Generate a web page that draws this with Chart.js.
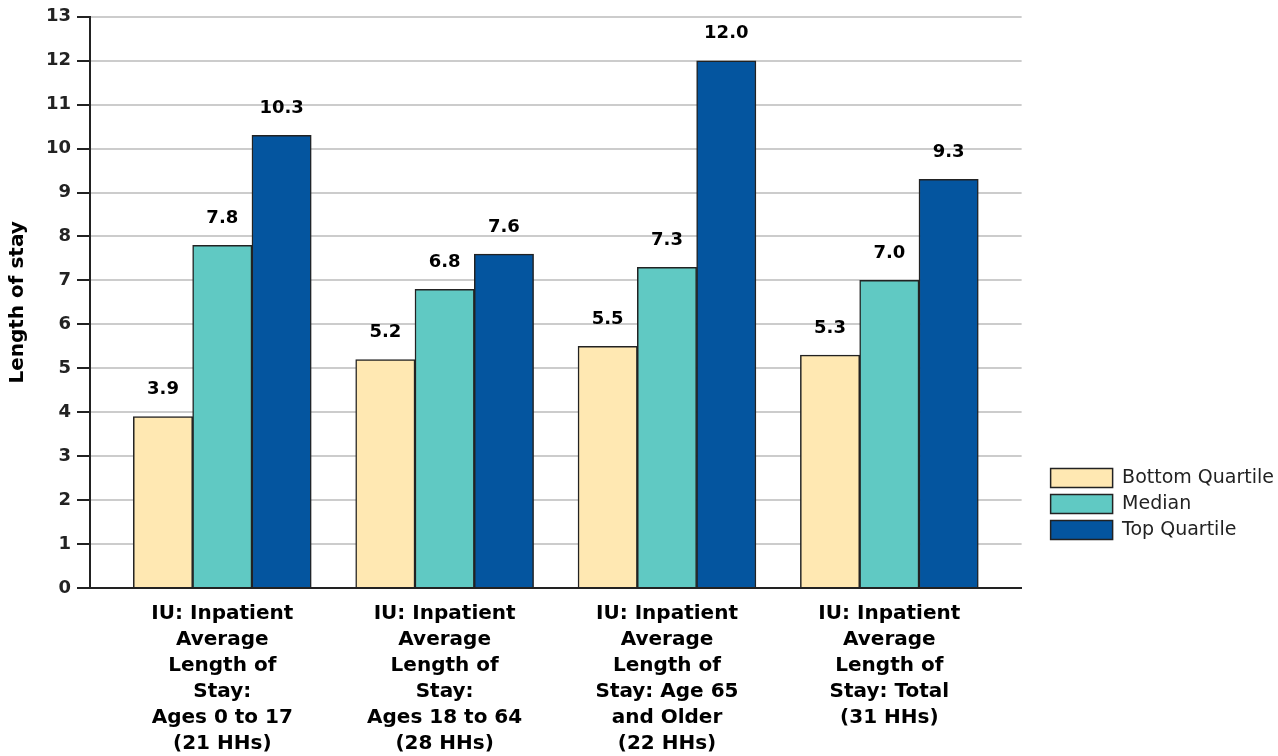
<!DOCTYPE html>
<html>
<head>
<meta charset="utf-8">
<script src="https://cdn.jsdelivr.net/npm/chart.js@4.4.1/dist/chart.umd.min.js"></script>
<style>
  html, body { margin: 0; padding: 0; background: #fff; }
  #wrap { width: 1278px; height: 756px; position: relative; }
</style>
</head>
<body>
<div id="wrap"><canvas id="chart"></canvas></div>
<script>
// categories, one array of lines each
var categories = [
  ['IU: Inpatient', 'Average', 'Length of', 'Stay:', 'Ages 0 to 17', '(21 HHs)'],
  ['IU: Inpatient', 'Average', 'Length of', 'Stay:', 'Ages 18 to 64', '(28 HHs)'],
  ['IU: Inpatient', 'Average', 'Length of', 'Stay: Age 65', 'and Older', '(22 HHs)'],
  ['IU: Inpatient', 'Average', 'Length of', 'Stay: Total', '(31 HHs)']
];
var bottomQuartile = [3.9, 5.2, 5.5, 5.3];
var median = [7.8, 6.8, 7.3, 7.0];
var topQuartile = [10.3, 7.6, 12.0, 9.3];
var yTicks = [0, 13];

var ink = '#222222';
var xPad = 0.595; // room left/right of the outer groups, in category units

function points(values) {
  return values.map(function (v, i) { return { x: i + 1, y: v }; });
}

function series(label, values, color) {
  return {
    label: label,
    data: points(values),
    backgroundColor: color,
    borderColor: ink,
    borderWidth: 1.5,
    barThickness: 59.3
  };
}

// value printed above every bar
var valueLabels = {
  id: 'valueLabels',
  afterDatasetsDraw: function (chart) {
    var ctx = chart.ctx;
    ctx.save();
    ctx.font = 'bold 18px "DejaVu Sans"';
    ctx.fillStyle = '#000';
    ctx.textAlign = 'center';
    ctx.textBaseline = 'middle';
    chart.data.datasets.forEach(function (ds, i) {
      chart.getDatasetMeta(i).data.forEach(function (bar, j) {
        ctx.fillText(ds.data[j].y.toFixed(1), bar.x, bar.y - 27);
      });
    });
    ctx.restore();
  }
};

new Chart(document.getElementById('chart'), {
  type: 'bar',
  data: {
    datasets: [
      series('Bottom Quartile', bottomQuartile, '#FFE8B2'),
      series('Median', median, '#60C9C3'),
      series('Top Quartile', topQuartile, '#04559F')
    ]
  },
  options: {
    responsive: true,
    maintainAspectRatio: false,
    animation: false,
    layout: { padding: { top: 16, right: -6, left: 0, bottom: -14 } },
    plugins: {
      tooltip: { enabled: false },
      legend: {
        position: 'right',
        align: 'start',
        title: { display: true, text: '', padding: { top: 431, bottom: 0 } },
        labels: {
          boxWidth: 62,
          boxHeight: 19,
          padding: 7,
          color: ink,
          font: { family: '"DejaVu Sans"', size: 19 }
        }
      }
    },
    scales: {
      x: {
        type: 'linear',
        offset: false,
        min: 1 - xPad,
        max: categories.length + xPad,
        grid: { display: false, drawTicks: false },
        border: { color: ink, width: 2 },
        ticks: {
          stepSize: 1,
          includeBounds: false,
          autoSkip: false,
          maxRotation: 0,
          padding: 13,
          color: '#000',
          font: { family: '"DejaVu Sans"', size: 20, weight: 'bold', lineHeight: '26px' },
          callback: function (v) {
            return Number.isInteger(v) ? categories[v - 1] : '';
          }
        }
      },
      y: {
        min: yTicks[0],
        max: yTicks[1],
        afterFit: function (s) { s.width = 90; },
        grid: { color: '#cccccc', lineWidth: 2, tickColor: ink, tickWidth: 2, tickLength: 13 },
        border: { color: ink, width: 2 },
        ticks: {
          stepSize: 1,
          padding: 6,
          color: ink,
          font: { family: '"DejaVu Sans"', size: 18, weight: 'bold' }
        },
        title: {
          display: true,
          text: 'Length of stay',
          color: '#000',
          padding: { top: 6, bottom: 0 },
          font: { family: '"DejaVu Sans"', size: 20, weight: 'bold' }
        }
      },
      gap: {
        type: 'linear',
        position: 'right',
        display: false,
        afterFit: function (s) { s.width = 22; }
      }
    }
  },
  plugins: [valueLabels]
});
</script>
</body>
</html>
